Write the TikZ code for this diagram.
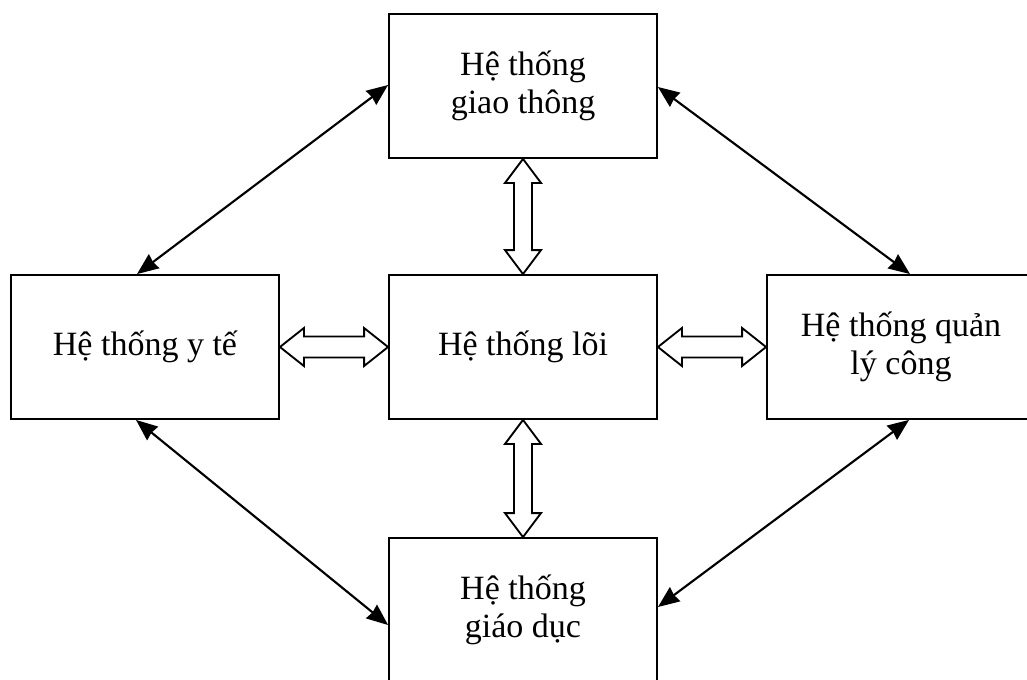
\documentclass[tikz,border=0pt]{standalone}
\usepackage{fontspec}
\setmainfont{Liberation Serif}
\usetikzlibrary{arrows.meta,calc}
\begin{document}
\begin{tikzpicture}[x=0.75pt,y=-0.75pt,
  box/.style={draw,line width=1.4pt,minimum width=201pt,minimum height=108pt,
    align=center,inner sep=0pt,font=\fontsize{25.5}{28.5}\selectfont},
  tip/.style={},
  link/.style={line width=1.6pt,
    {Stealth[length=16pt,width=13pt,inset=1pt]}-{Stealth[length=16pt,width=13pt,inset=1pt]}},
  hollow/.style={draw,line width=1.4pt,fill=white,line join=miter}]
\useasboundingbox (0,0) rectangle (1027,679);
\clip (0,0) rectangle (1027,679);
\node[box] (T) at (523,86) {Hệ thống\\giao thông};
\node[box] (L) at (145,347) {Hệ thống y tế};
\node[box] (C) at (523,347) {Hệ thống lõi};
\node[box] (R) at (901,347) {Hệ thống quản\\lý công};
\node[box] (B) at (523,610) {Hệ thống\\giáo dục};
% thin double arrows
\coordinate (tl1) at ($(L.north)+(-8,0)$);
\coordinate (tl2) at ($(T.west)+(0,-1)$);
\coordinate (tr1) at ($(T.east)+(0,1)$);
\coordinate (tr2) at ($(R.north)+(9,0)$);
\coordinate (bl1) at ($(L.south)+(-9,0)$);
\coordinate (bl2) at ($(B.west)+(0,15)$);
\coordinate (br1) at ($(R.south)+(8,0)$);
\coordinate (br2) at ($(B.east)+(0,-3)$);
\draw[link] (tl1) -- (tl2);
\draw[link] (tr1) -- (tr2);
\draw[link] (bl1) -- (bl2);
\draw[link] (br1) -- (br2);
% hollow double arrows, horizontal
\draw[hollow] (L.east) -- ++(24,-19) -- ++(0,8.5) -- ($(C.west)+(-24,-10.5)$) -- ++(0,-8.5)
  -- (C.west) -- ++(-24,19) -- ++(0,-8.5) -- ($(L.east)+(24,10.5)$) -- ++(0,8.5) -- cycle;
\draw[hollow] (C.east) -- ++(24,-19) -- ++(0,8.5) -- ($(R.west)+(-24,-10.5)$) -- ++(0,-8.5)
  -- (R.west) -- ++(-24,19) -- ++(0,-8.5) -- ($(C.east)+(24,10.5)$) -- ++(0,8.5) -- cycle;
% hollow double arrows, vertical
\draw[hollow] (T.south) -- ++(-18,24) -- ++(9,0) -- ($(C.north)+(-9,-24)$) -- ++(-9,0)
  -- (C.north) -- ++(18,-24) -- ++(-9,0) -- ($(T.south)+(9,24)$) -- ++(9,0) -- cycle;
\draw[hollow] (C.south) -- ++(-18,24) -- ++(9,0) -- ($(B.north)+(-9,-24)$) -- ++(-9,0)
  -- (B.north) -- ++(18,-24) -- ++(-9,0) -- ($(C.south)+(9,24)$) -- ++(9,0) -- cycle;
\end{tikzpicture}
\end{document}
